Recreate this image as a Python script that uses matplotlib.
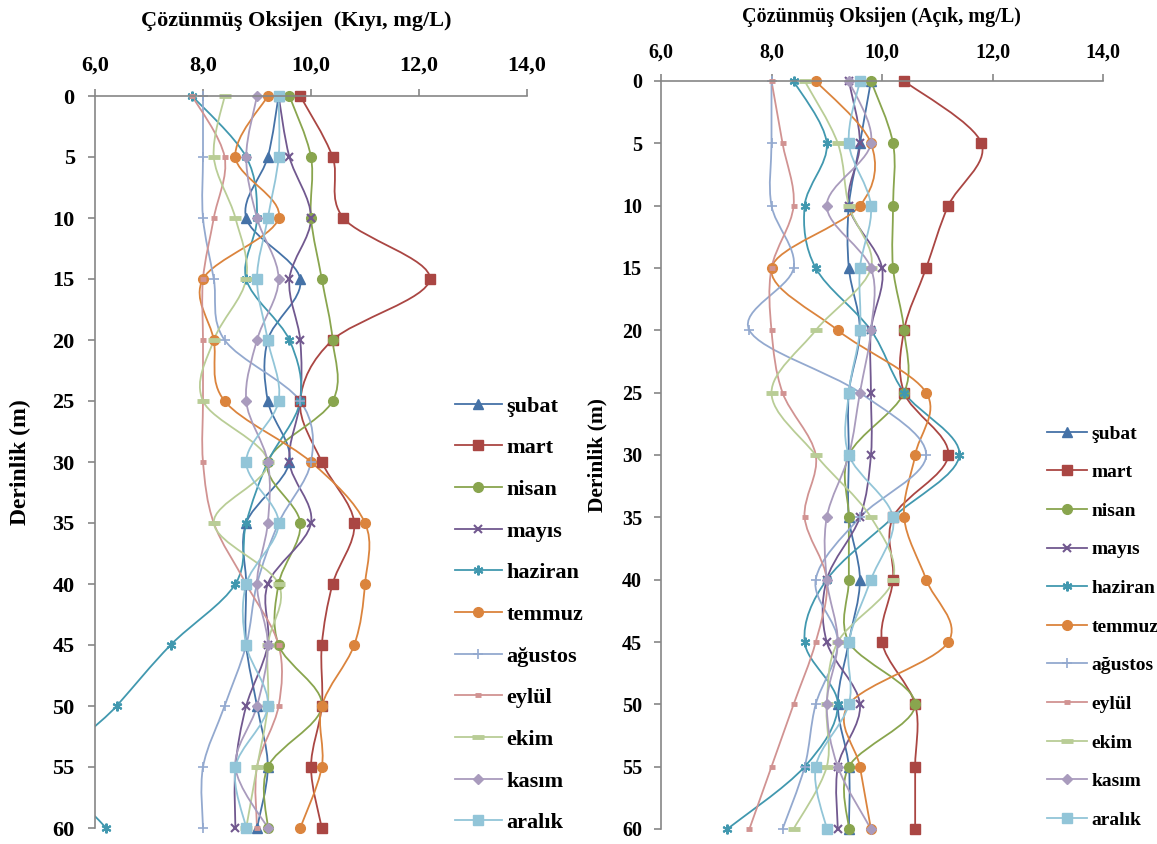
import numpy as np
import matplotlib.pyplot as plt
from matplotlib.path import Path
from matplotlib.patches import PathPatch
from matplotlib.lines import Line2D

plt.rcParams['font.family'] = ['Liberation Serif', 'DejaVu Serif']
plt.rcParams['font.weight'] = 'bold'

# depths (m)
depths = [0, 5, 10, 15, 20, 25, 30, 35, 40, 45, 50, 55, 60]
months = ['şubat', 'mart', 'nisan', 'mayıs', 'haziran', 'temmuz',
          'ağustos', 'eylül', 'ekim', 'kasım', 'aralık']

# dissolved oxygen, nearshore (Kıyı)
kiyi_subat = [9.4, 9.2, 8.8, 9.8, 9.2, 9.2, 9.6, 8.8, 8.8, 8.8, 9.0, 9.2, 9.0]
kiyi_mart = [9.8, 10.4, 10.6, 12.2, 10.4, 9.8, 10.2, 10.8, 10.4, 10.2, 10.2, 10.0, 10.2]
kiyi_nisan = [9.6, 10.0, 10.0, 10.2, 10.4, 10.4, 9.2, 9.8, 9.4, 9.4, 10.2, 9.2, 9.2]
kiyi_mayis = [9.4, 9.6, 10.0, 9.6, 9.8, 9.8, 9.6, 10.0, 9.2, 9.2, 8.8, 8.6, 8.6]
kiyi_haziran = [7.8, 8.8, 9.0, 8.8, 9.6, 9.8, 9.2, 8.8, 8.6, 7.4, 6.4, 5.4, 6.2]
kiyi_temmuz = [9.2, 8.6, 9.4, 8.0, 8.2, 8.4, 10.0, 11.0, 11.0, 10.8, 10.2, 10.2, 9.8]
kiyi_agustos = [8.0, 8.0, 8.0, 8.2, 8.4, 9.8, 10.0, 9.4, 9.0, 8.8, 8.4, 8.0, 8.0]
kiyi_eylul = [7.8, 8.4, 8.2, 8.0, 8.0, 8.0, 8.0, 8.2, 8.8, 9.4, 9.4, 9.0, 9.0]
kiyi_ekim = [8.4, 8.2, 8.6, 8.8, 8.2, 8.0, 9.2, 8.2, 9.4, 9.2, 9.2, 9.0, 8.8]
kiyi_kasim = [9.0, 8.8, 9.0, 9.4, 9.0, 8.8, 9.2, 9.2, 9.0, 9.2, 9.0, 8.6, 9.2]
kiyi_aralik = [9.4, 9.4, 9.2, 9.0, 9.2, 9.4, 8.8, 9.4, 8.8, 8.8, 9.2, 8.6, 8.8]

# dissolved oxygen, offshore (Açık)
acik_subat = [9.8, 9.6, 9.4, 9.4, 9.6, 9.4, 9.4, 9.4, 9.6, 9.4, 9.2, 9.4, 9.4]
acik_mart = [10.4, 11.8, 11.2, 10.8, 10.4, 10.4, 11.2, 10.2, 10.2, 10.0, 10.6, 10.6, 10.6]
acik_nisan = [9.8, 10.2, 10.2, 10.2, 10.4, 10.4, 9.4, 9.4, 9.4, 9.4, 10.6, 9.4, 9.4]
acik_mayis = [9.4, 9.6, 9.4, 10.0, 9.8, 9.8, 9.8, 9.6, 9.0, 9.0, 9.6, 9.2, 9.2]
acik_haziran = [8.4, 9.0, 8.6, 8.8, 9.8, 10.4, 11.4, 10.2, 9.0, 8.6, 9.2, 8.6, 7.2]
acik_temmuz = [8.8, 9.8, 9.6, 8.0, 9.2, 10.8, 10.6, 10.4, 10.8, 11.2, 9.4, 9.6, 9.8]
acik_agustos = [8.0, 8.0, 8.0, 8.4, 7.6, 9.6, 10.8, 9.6, 8.8, 9.2, 8.8, 8.6, 8.2]
acik_eylul = [8.0, 8.2, 8.4, 8.0, 8.0, 8.2, 8.8, 8.6, 9.0, 8.8, 8.4, 8.0, 7.6]
acik_ekim = [8.6, 9.2, 9.4, 9.8, 8.8, 8.0, 8.8, 9.8, 10.2, 9.2, 9.0, 9.0, 8.4]
acik_kasim = [9.4, 9.8, 9.0, 9.8, 9.8, 9.6, 9.4, 9.0, 9.0, 9.2, 9.0, 9.2, 9.8]
acik_aralik = [9.6, 9.4, 9.8, 9.6, 9.6, 9.4, 9.4, 10.2, 9.8, 9.4, 9.4, 8.8, 9.0]

x_ticks = [6, 8, 10, 12, 14]
x_ticklabels = ['6,0', '8,0', '10,0', '12,0', '14,0']
y_ticks = [0, 5, 10, 15, 20, 25, 30, 35, 40, 45, 50, 55, 60]

kiyi = [kiyi_subat, kiyi_mart, kiyi_nisan, kiyi_mayis, kiyi_haziran, kiyi_temmuz,
        kiyi_agustos, kiyi_eylul, kiyi_ekim, kiyi_kasim, kiyi_aralik]
acik = [acik_subat, acik_mart, acik_nisan, acik_mayis, acik_haziran, acik_temmuz,
        acik_agustos, acik_eylul, acik_ekim, acik_kasim, acik_aralik]

colors = ['#4572A7', '#AA4643', '#89A54E', '#71588F', '#4198AF', '#DB843D',
          '#93A9CF', '#D19392', '#B9CD96', '#A99BBD', '#92C5D8']
# marker, size, edge width
styles = [('^', 6.5, 1), ('s', 7, 1), ('o', 7, 1), ('x', 6, 1.5), ((6, 2, 0), 7, 1.5),
          ('o', 7, 1), ('+', 7, 1.2), ('_', 5, 3.5), ('_', 8, 3.5), ('D', 5, 1), ('s', 7, 1)]

GRAY = '#868686'


def smooth_path(xs, ys):
    # Catmull-Rom style bezier through the points (like Excel smoothed lines)
    pts = np.column_stack([xs, ys]).astype(float)
    n = len(pts)
    verts = [pts[0]]
    codes = [Path.MOVETO]
    for i in range(n - 1):
        p0 = pts[max(i - 1, 0)]
        p1 = pts[i]
        p2 = pts[i + 1]
        p3 = pts[min(i + 2, n - 1)]
        verts += [p1 + (p2 - p0) / 6, p2 - (p3 - p1) / 6, p2]
        codes += [Path.CURVE4] * 3
    return Path(verts, codes)


def draw_panel(ax, data, fs, xpad):
    handles = []
    for vals, c, (m, ms, mew), name in zip(data, colors, styles, months):
        ax.add_patch(PathPatch(smooth_path(vals, depths), facecolor='none',
                               edgecolor=c, lw=1.3))
        # markers outside the x range are hidden like the clipped line
        shown = np.where(np.array(vals) < 6, np.nan, vals)
        ax.plot(shown, depths, linestyle='none', marker=m, ms=ms, mew=mew,
                color=c, mec=c, mfc=c, clip_on=False)
        handles.append(Line2D([], [], color=c, lw=1.3, marker=m, ms=ms, mew=mew,
                              mec=c, mfc=c, label=name))
    ax.set_xlim(6, 14)
    ax.set_ylim(60, 0)
    ax.xaxis.tick_top()
    ax.set_xticks(x_ticks)
    ax.set_xticklabels(x_ticklabels)
    ax.set_yticks(y_ticks)
    for s in ['right', 'bottom']:
        ax.spines[s].set_visible(False)
    for s in ['top', 'left']:
        ax.spines[s].set_color(GRAY)
        ax.spines[s].set_linewidth(1.2)
    ax.tick_params(axis='x', direction='out', length=5, width=1.2, color=GRAY,
                   labelsize=fs, pad=xpad)
    ax.tick_params(axis='y', direction='out', length=5, width=1.2, color=GRAY,
                   labelsize=fs, pad=fs * 0.6)
    return handles


fig = plt.figure(figsize=(11.57, 8.44), dpi=100)
W, H = 1157, 844

ax1 = fig.add_axes([95 / W, 1 - 828 / H, (527 - 95) / W, (828 - 96) / H])
h1 = draw_panel(ax1, kiyi, 16, 10)
ax2 = fig.add_axes([661 / W, 1 - 829 / H, (1103 - 661) / W, (829 - 81) / H])
h2 = draw_panel(ax2, acik, 14.5, 8.5)

fig.text(296 / W, 1 - 21 / H, 'Çözünmüş Oksijen  (Kıyı, mg/L)', ha='center', va='center', fontsize=16)
fig.text(881 / W, 1 - 17 / H, 'Çözünmüş Oksijen (Açık, mg/L)', ha='center', va='center', fontsize=14.5)
fig.text(20 / W, 1 - 462 / H, 'Derinlik (m)', rotation=90, ha='center', va='center', fontsize=17)
fig.text(597 / W, 1 - 455 / H, 'Derinlik (m)', rotation=90, ha='center', va='center', fontsize=15.5)

fig.legend(handles=h1, loc='upper left', bbox_to_anchor=(455 / W, 1 - 396 / H),
           frameon=False, fontsize=16, handlelength=2.1, handletextpad=0.2,
           labelspacing=0.95, borderpad=0, borderaxespad=0)
fig.legend(handles=h2, loc='upper left', bbox_to_anchor=(1047 / W, 1 - 425 / H),
           frameon=False, fontsize=14, handlelength=2.05, handletextpad=0.25,
           labelspacing=1.08, borderpad=0, borderaxespad=0)

fig.savefig('out.png', dpi=100)
